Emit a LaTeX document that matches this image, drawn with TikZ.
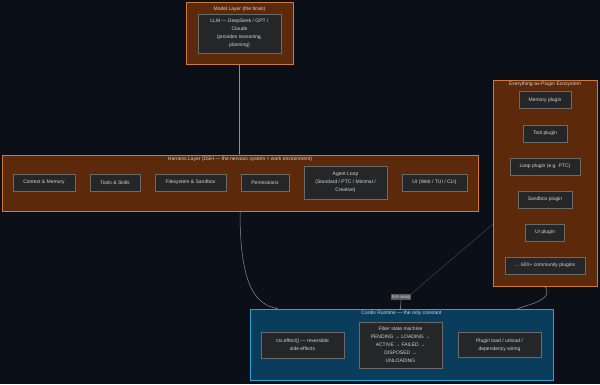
\documentclass[tikz,border=0pt]{standalone}
\usepackage{fontspec}
\setmainfont{Liberation Sans}
\usetikzlibrary{arrows.meta,calc}
\definecolor{bg}{HTML}{0B0F17}
\definecolor{layerfill}{HTML}{5C2A0B}
\definecolor{layerdraw}{HTML}{D27A35}
\definecolor{innerfill}{HTML}{242627}
\definecolor{innerdraw}{HTML}{6A6A6A}
\definecolor{txt}{HTML}{D4D4D4}
\definecolor{cordfill}{HTML}{0A3D5C}
\definecolor{corddraw}{HTML}{2BA3D4}
\definecolor{edge}{HTML}{8A8E96}
\definecolor{edgedark}{HTML}{40444C}
\definecolor{lblfill}{HTML}{5A5A5A}
\begin{document}
\begin{tikzpicture}[x=1pt,y=-1pt,
  layer/.style={draw=layerdraw,fill=layerfill,line width=0.8pt,inner sep=0pt},
  cord/.style={draw=corddraw,fill=cordfill,line width=0.8pt,inner sep=0pt},
  inner/.style={draw=innerdraw,fill=innerfill,line width=0.6pt,text=txt,
    font=\fontsize{5}{8}\selectfont,align=center,inner sep=0pt},
  ttl/.style={text=txt,font=\fontsize{5}{6}\selectfont,inner sep=0pt},
  conn/.style={draw=edge,line width=0.5pt,-{Stealth[length=1.6pt,width=1.6pt]}},
  bconn/.style={draw=edge,line width=0.5pt,{Stealth[length=1.6pt,width=1.6pt]}-{Stealth[length=1.6pt,width=1.6pt]}},
  dconn/.style={draw=edgedark,line width=0.5pt},
]
\fill[bg] (0,0) rectangle (600,384);
\useasboundingbox (0,0) rectangle (600,384);

% Model layer
\node[layer,minimum width=107pt,minimum height=62pt] (model) at (239.5,33) {};
\node[ttl] (modelt) at (239.5,9) {Model Layer (the brain)};
\node[inner,minimum width=83pt,minimum height=39pt] (llm) at (239.5,33.5)
  {LLM — DeepSeek / GPT /\\Claude\\(provides reasoning,\\planning)};

% Harness layer
\node[layer,minimum width=476pt,minimum height=56pt] (harness) at (240,183) {};
\node[ttl] (harnesst) at (240,159) {Harness Layer (DSH — the nervous system + work environment)};
\node[inner,minimum width=62pt,minimum height=17pt] (ctx) at (44,182.5) {Context \& Memory};
\node[inner,minimum width=50pt,minimum height=17pt] (tools) at (115,182.5) {Tools \& Skills};
\node[inner,minimum width=71pt,minimum height=17pt] (fs) at (190.5,182.5) {Filesystem \& Sandbox};
\node[inner,minimum width=48pt,minimum height=17pt] (perm) at (265,182.5) {Permissions};
\node[inner,minimum width=83pt,minimum height=33pt] (loop) at (345.5,182.5)
  {Agent Loop\\(Standard / PTC / Minimal /\\Creative)};
\node[inner,minimum width=65pt,minimum height=17pt] (ui) at (434.5,182.5) {UI (Web / TUI / CLI)};

% Plugin ecosystem
\node[layer,minimum width=104pt,minimum height=206pt] (eco) at (545,183) {};
\node[ttl] (ecot) at (545,84.5) {Everything-as-Plugin Ecosystem};
\node[inner,minimum width=52pt,minimum height=17pt] (pmem) at (545,100) {Memory plugin};
\node[inner,minimum width=44pt,minimum height=17pt] (ptool) at (545,133.5) {Tool plugin};
\node[inner,minimum width=70pt,minimum height=17pt] (ploop) at (545,166.5) {Loop plugin (e.g. PTC)};
\node[inner,minimum width=54pt,minimum height=17pt] (psand) at (545,199.5) {Sandbox plugin};
\node[inner,minimum width=39pt,minimum height=17pt] (pui) at (545,232.5) {UI plugin};
\node[inner,minimum width=80pt,minimum height=17pt] (pcomm) at (545,265.5) {… 600+ community plugins};

% Cordis runtime
\node[cord,minimum width=303pt,minimum height=71pt] (cordis) at (401.5,344.5) {};
\node[ttl] (cordist) at (401.5,313.5) {Cordis Runtime — the only constant};
\node[inner,minimum width=83pt,minimum height=26pt] (effect) at (302.5,345)
  {ctx.effect() — reversible\\side effects};
\node[inner,minimum width=83pt,minimum height=46pt] (fiber) at (400.5,345)
  {Fiber state machine\\PENDING → LOADING →\\ACTIVE → FAILED →\\DISPOSED →\\UNLOADING};
\node[inner,minimum width=83pt,minimum height=25pt] (pload) at (499.5,345)
  {Plugin load / unload /\\dependency wiring};

% connectors
\coordinate (cA) at ($(cordis.north west)+(28,0)$);
\coordinate (cB) at (400.5,309);
\coordinate (cC) at (517,309);
\coordinate (eA) at (493,224);
\draw[bconn] (model.south) -- (model.south |- harness.north);
\draw[conn] (harness.south) .. controls (240,285) and (255,304) .. (cA);
\node[fill=lblfill,text=txt,font=\fontsize{4.5}{5}\selectfont,inner sep=0.8pt] (hs) at (401,297) {hot-swap};
\draw[dconn] (eA) -- (hs.north east);
\draw[conn] (hs.south) -- (cB);
\draw[conn] (cC) .. controls (530,304) and (553,300) .. (eco.south);
\end{tikzpicture}
\end{document}
